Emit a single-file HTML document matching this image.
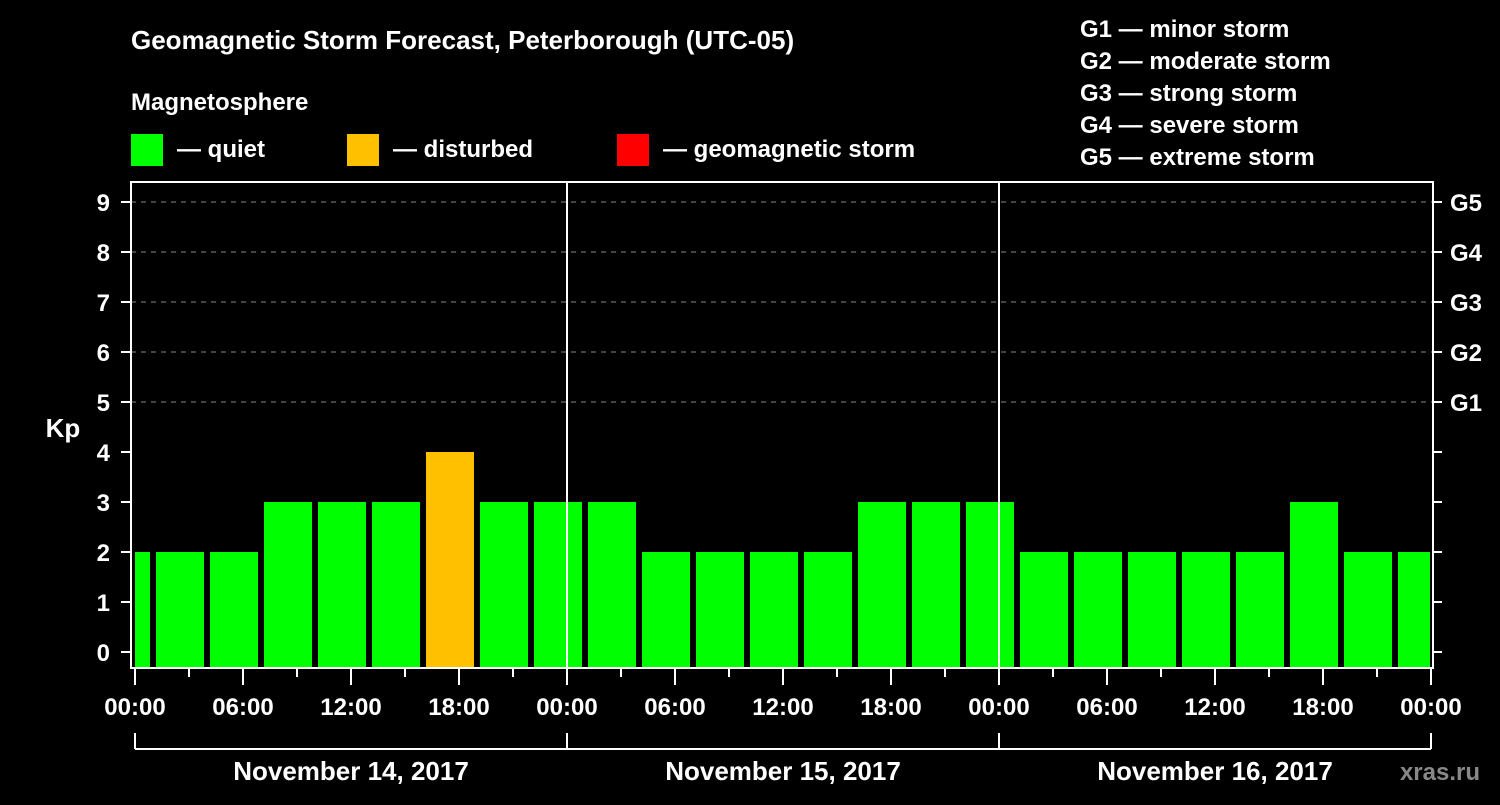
<!DOCTYPE html>
<html><head><meta charset="utf-8"><style>
body{margin:0;background:#000;width:1500px;height:800px;overflow:hidden}
svg text{font-family:"Liberation Sans",Arial,sans-serif;font-weight:bold;fill:#fff}
</style></head><body>
<svg id="chart" width="1500" height="800" xmlns="http://www.w3.org/2000/svg">
<text x="131" y="49" font-size="26">Geomagnetic Storm Forecast, Peterborough (UTC-05)</text>
<text x="131" y="110" font-size="24">Magnetosphere</text>
<rect x="131" y="134" width="32" height="32" fill="#00ff00"/>
<text x="177" y="157" font-size="24">— quiet</text>
<rect x="347" y="134" width="32" height="32" fill="#ffc000"/>
<text x="393" y="157" font-size="24">— disturbed</text>
<rect x="617" y="134" width="32" height="32" fill="#ff0000"/>
<text x="663" y="157" font-size="24">— geomagnetic storm</text>
<g font-size="24">
<text x="1080" y="37">G1 — minor storm</text>
<text x="1080" y="69">G2 — moderate storm</text>
<text x="1080" y="101">G3 — strong storm</text>
<text x="1080" y="133">G4 — severe storm</text>
<text x="1080" y="165">G5 — extreme storm</text>
</g>
<text x="63" y="437" font-size="26" text-anchor="middle">Kp</text>
<text x="1480" y="780" font-size="24" text-anchor="end" style="fill:#888">xras.ru</text>
<g id="marks"></g>
</svg>
<script>
const kpValues=[2,2,2,3,3,3,4,3,3,3,2,2,2,2,3,3,3,2,2,2,2,2,3,2,2];
const yTicks=[0,1,2,3,4,5,6,7,8,9];
const gLabels=["G1","G2","G3","G4","G5"];
const timeLabels=["00:00","06:00","12:00","18:00"];
const dayLabels=["November 14, 2017","November 15, 2017","November 16, 2017"];
const NS="http://www.w3.org/2000/svg";
const g=document.getElementById('marks');
const X0=135,PXH=18,L=131,R=1433,T=182,B=668;
const xH=h=>X0+h*PXH;
const yK=v=>652-v*50;
function mk(t,a){const e=document.createElementNS(NS,t);for(const k in a)e.setAttribute(k,a[k]);g.appendChild(e);return e;}
// grid
yTicks.forEach(v=>{
 if(v>=5){const l=mk('line',{x1:L,x2:R,y1:yK(v),y2:yK(v),stroke:'#888','stroke-width':1,'stroke-dasharray':'5,5'});
 
 }
 const t=mk('line',{x1:121,x2:L,y1:yK(v),y2:yK(v),stroke:'#fff','stroke-width':2});
 
 
 const t2=mk('line',{x1:R,x2:1442,y1:yK(v),y2:yK(v),stroke:'#fff','stroke-width':2});
 
 
 const tx=mk('text',{x:110,y:yK(v)+9,'font-size':24,'text-anchor':'end'});tx.textContent=v;
 
 
});
gLabels.forEach((s,i)=>{const tx=mk('text',{x:1450,y:yK(5+i)+9,'font-size':24});tx.textContent=s;
 
 });
// bars
kpValues.forEach((v,i)=>{
 const c=xH(-0.5+3*i);let x1=Math.max(c-24,X0),x2=Math.min(c+24,1430);
 const col=v>=5?'#ff0000':(v>=4?'#ffc000':'#00ff00');
 const r=mk('rect',{x:x1,y:yK(v),width:x2-x1,height:B-yK(v),fill:col});
 
 
});
// day separators
[1,2].forEach(d=>{const l=mk('line',{x1:xH(24*d),x2:xH(24*d),y1:T,y2:B,stroke:'#fff','stroke-width':2});
 
 });
// frame
const f=mk('rect',{x:L,y:T,width:R-L,height:B-T,fill:'none',stroke:'#fff','stroke-width':2});


// x ticks
for(let h=0;h<=72;h+=3){
 const long=h%6===0;
 const l=mk('line',{x1:xH(h),x2:xH(h),y1:B,y2:long?685:677,stroke:'#fff','stroke-width':2});
 
 
 if(h%6===0){const tx=mk('text',{x:xH(h),y:715,'font-size':24,'text-anchor':'middle'});tx.textContent=timeLabels[(h/6)%4];
 
 }
}
// day bracket
const br=mk('line',{x1:xH(0),x2:xH(72),y1:749,y2:749,stroke:'#fff','stroke-width':2});


for(let d=0;d<=3;d++){const l=mk('line',{x1:xH(24*d),x2:xH(24*d),y1:733,y2:749,stroke:'#fff','stroke-width':2});
 
 }
dayLabels.forEach((s,d)=>{const tx=mk('text',{x:xH(24*d+12),y:780,'font-size':26,'text-anchor':'middle'});tx.textContent=s;
 
 });
</script>
</body></html>
